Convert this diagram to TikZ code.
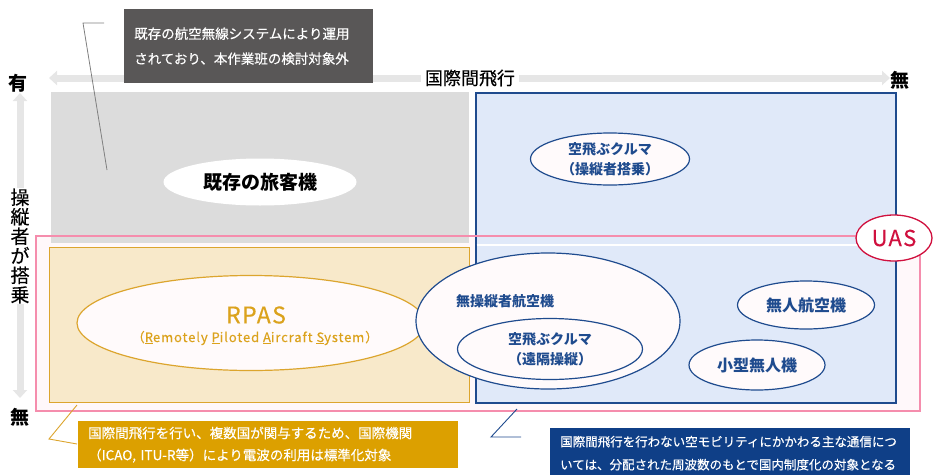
\documentclass[tikz,border=0pt]{standalone}
\usepackage{fontspec}
\setmainfont{Noto Sans CJK JP}
\newfontfamily\medfont{Noto Sans CJK JP}[FakeBold=0.35]
\usetikzlibrary{arrows.meta,shapes.geometric}
\definecolor{darkbox}{HTML}{595757}
\definecolor{arrowgray}{HTML}{E6E6E6}
\definecolor{graybox}{HTML}{DCDCDC}
\definecolor{bluefill}{HTML}{E0E9F9}
\definecolor{blueline}{HTML}{1F4B8E}
\definecolor{bluetext}{HTML}{1F4B8E}
\definecolor{pinkline}{HTML}{F58DAD}
\definecolor{pinkfill}{HTML}{FFF8FA}
\definecolor{goldline}{HTML}{DCA52E}
\definecolor{goldfill}{HTML}{F8E9CA}
\definecolor{goldtext}{HTML}{DBA21C}
\definecolor{goldbox}{HTML}{DCA000}
\definecolor{bluebox}{HTML}{0F3F87}
\definecolor{uasred}{HTML}{D0103E}
\definecolor{ellfill}{HTML}{FFFAFB}
\tikzset{
  bigarrow/.style={line width=7pt, draw=arrowgray,
    arrows={Triangle[width=14pt,length=8pt]-Triangle[width=14pt,length=8pt]}},
  axislbl/.style={inner sep=0pt, font=\bfseries\fontsize{19}{20}\selectfont},
  areabox/.style={rectangle, inner sep=0pt, anchor=north west},
  blueell/.style={ellipse, draw=blueline, line width=1.2pt, fill=ellfill, inner sep=0pt,
    text=bluetext, align=center, font=\bfseries\fontsize{14}{20}\selectfont},
  callout/.style={rectangle, anchor=north west, inner xsep=10pt, inner ysep=0pt,
    align=left, text=white},
}
\begin{document}
\begin{tikzpicture}[x=1pt,y=-1pt]
\useasboundingbox (0,0) rectangle (934,474);
% axes
\coordinate (hl) at (49,78);
\coordinate (hr) at (890,78);
\coordinate (vt) at (20,93);
\coordinate (vb) at (20,398);
\draw[bigarrow] (hr) -- (hl);
\draw[bigarrow] (vb) -- (vt);
\node[fill=white, inner xsep=4pt, inner ysep=1pt, font=\medfont\fontsize{18}{20}\selectfont] (hlabel) at (470,78) {国際間飛行};
\node[fill=white, inner xsep=1pt, inner ysep=1pt, align=center, font=\medfont\fontsize{19}{19.5}\selectfont] (vlabel) at (20,246) {操\\縦\\者\\が\\搭\\乗};
\node[axislbl] (yes) at (18,83) {有};
\node[axislbl] (notop) at (900,80) {無};
\node[axislbl] (nobot) at (20,417) {無};
% regions
\fill[pinkfill] (35,235) rectangle (919,410);
\node[areabox, fill=graybox, minimum width=418pt, minimum height=151pt] (gray) at (51,92) {};
\node[areabox, fill=bluefill, draw=blueline, line width=1.5pt, minimum width=420pt, minimum height=310pt] (blue) at (475,92) {};
\draw[white, line width=2.5pt] (476.5,245) -- (893.5,245);
\node[areabox, fill=goldfill, draw=goldline, line width=1.3pt, minimum width=420pt, minimum height=155pt] (gold) at (49,247) {};
\node[areabox, draw=pinkline, line width=1.6pt, minimum width=884pt, minimum height=175pt] (uasbox) at (35,235) {};
\node[ellipse, fill=white, draw=uasred, line width=1.3pt, minimum width=76pt, minimum height=46pt, inner sep=0pt, text=uasred, font=\medfont\fontsize{22}{24}\selectfont] (uas) at (894,238) {\addfontfeature{LetterSpace=6}UAS};
% ellipses
\node[ellipse, fill=white, minimum width=193pt, minimum height=47pt, inner sep=0pt, font=\bfseries\fontsize{19}{20}\selectfont] (liner) at (260,182) {既存の旅客機};
\node[blueell, minimum width=159pt, minimum height=52pt] (evtolon) at (610,159) {空飛ぶクルマ\\（操縦者搭乗）};
\node[ellipse, fill=ellfill, draw=goldline, line width=1.2pt, minimum width=348pt, minimum height=95pt, inner sep=0pt] (rpas) at (251,323) {};
\node[text=goldtext, font=\medfont\fontsize{23}{24}\selectfont, inner sep=0pt] (rpast) at (256,315) {\addfontfeature{LetterSpace=6}RPAS};
\node[text=goldtext, font=\medfont\fontsize{13}{15}\selectfont, inner sep=0pt] (rpasl) at (255,338) {\addfontfeature{LetterSpace=7}（\underline{R}emotely \underline{P}iloted \underline{A}ircraft \underline{S}ystem）};
\node[blueell, minimum width=264pt, minimum height=136pt] (unmanned) at (548,321) {};
\node[text=bluetext, font=\bfseries\fontsize{14}{16}\selectfont, inner sep=0pt] (unmannedt) at (505,301) {無操縦者航空機};
\node[blueell, minimum width=185pt, minimum height=61pt] (evtoloff) at (550,349) {空飛ぶクルマ\\（遠隔操縦）};
\node[blueell, minimum width=137pt, minimum height=48pt, font=\bfseries\fontsize{16}{18}\selectfont] (uav) at (806,305) {無人航空機};
\node[blueell, minimum width=136pt, minimum height=50pt, font=\bfseries\fontsize{16}{18}\selectfont] (small) at (757,365) {小型無人機};
% callouts
\node[callout, fill=darkbox, text width=229pt, minimum height=74pt, font=\medfont\fontsize{13.5}{25}\selectfont] (note1) at (124,9) {既存の航空無線システムにより運用\\されており、本作業班の検討対象外};
\coordinate (n1a) at (104,23);
\coordinate (n1b) at (83,23);
\coordinate (n1c) at (107,170);
\draw[gray, line width=0.8pt] (n1a) -- (n1b) -- (n1c);
\node[callout, fill=goldbox, text width=360pt, minimum height=47pt, font=\medfont\fontsize{13.5}{22}\selectfont] (note2) at (78,421) {国際間飛行を行い、複数国が関与するため、国際機関\\（ICAO, ITU-R等）により電波の利用は標準化対象};
\coordinate (n2a) at (77,444);
\coordinate (n2b) at (49,439);
\coordinate (n2c) at (77,405);
\draw[goldline, line width=0.9pt] (n2a) -- (n2b) -- (n2c);
\node[callout, fill=bluebox, text width=340pt, minimum height=50pt, font=\medfont\fontsize{12.5}{23}\selectfont] (note3) at (550,428) {国際間飛行を行わない空モビリティにかかわる主な通信につ\\いては、分配された周波数のもとで国内制度化の対象となる};
\coordinate (n3a) at (521,437);
\coordinate (n3b) at (491,437);
\coordinate (n3c) at (517,409);
\draw[blueline, line width=0.9pt] (n3a) -- (n3b) -- (n3c);
\end{tikzpicture}
\end{document}
